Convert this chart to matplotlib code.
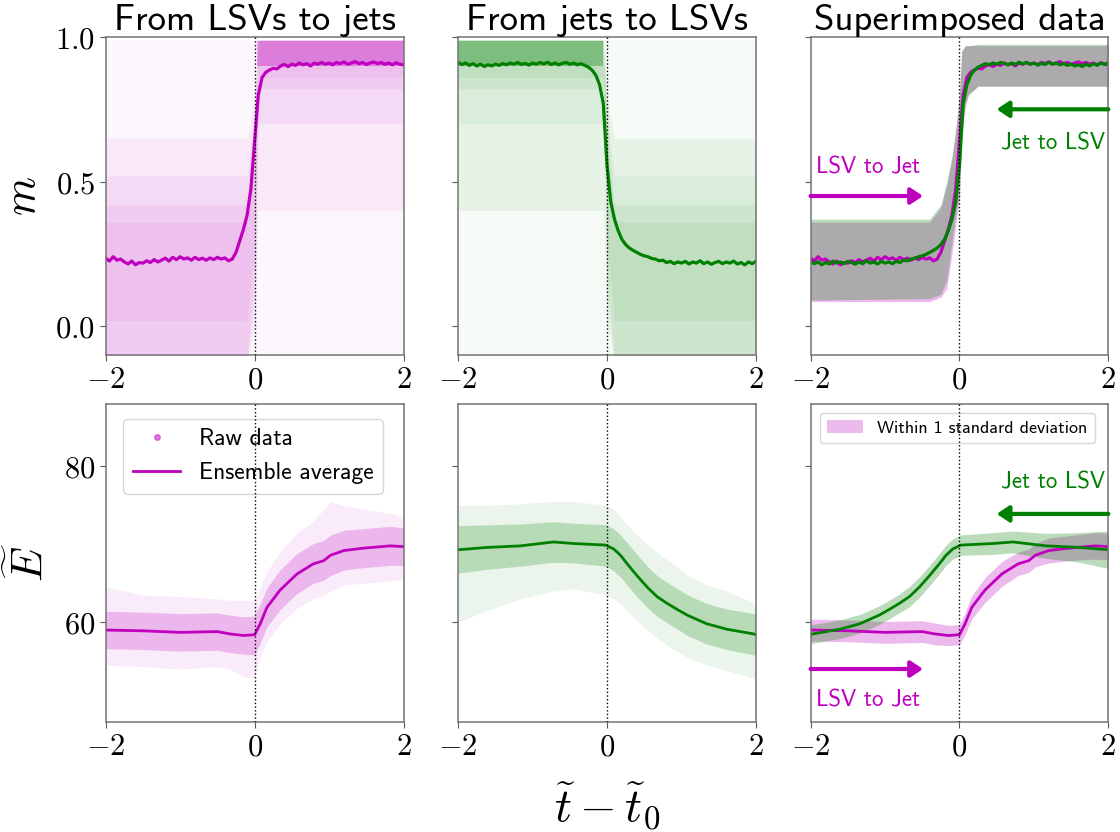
import numpy as np
import matplotlib.pyplot as plt
from matplotlib.lines import Line2D
from matplotlib.patches import Patch

plt.rcParams['mathtext.fontset'] = 'cm'

MAG = (0.75, 0.0, 0.75)
GRN = (0.0, 0.5, 0.0)

# ---- ensemble average of m, sampled every 0.05 in t - t0 ----
t_m = np.linspace(-2, 2, 81)
m_lsv_to_jet = [
    0.235, 0.225, 0.240, 0.228, 0.232, 0.222, 0.215, 0.225, 0.212, 0.220,
    0.218, 0.226, 0.220, 0.230, 0.222, 0.228, 0.235, 0.225, 0.238, 0.230,
    0.240, 0.232, 0.236, 0.228, 0.238, 0.230, 0.235, 0.228, 0.236, 0.230,
    0.238, 0.232, 0.236, 0.226, 0.232, 0.255, 0.295, 0.335, 0.385, 0.475,
    0.640,
    0.800, 0.860, 0.878, 0.886, 0.892, 0.890, 0.900, 0.905, 0.898, 0.906,
    0.902, 0.910, 0.904, 0.908, 0.900, 0.910, 0.906, 0.912, 0.906, 0.910,
    0.904, 0.912, 0.908, 0.914, 0.906, 0.910, 0.915, 0.908, 0.912, 0.905,
    0.910, 0.914, 0.908, 0.912, 0.906, 0.910, 0.904, 0.911, 0.906, 0.904]
m_jet_to_lsv = [
    0.912, 0.905, 0.910, 0.902, 0.908, 0.900, 0.906, 0.898, 0.904, 0.900,
    0.906, 0.902, 0.908, 0.904, 0.910, 0.906, 0.912, 0.905, 0.909, 0.903,
    0.910, 0.906, 0.912, 0.907, 0.913, 0.905, 0.910, 0.904, 0.909, 0.912,
    0.906, 0.910, 0.904, 0.908, 0.902, 0.896, 0.885, 0.868, 0.835, 0.770,
    0.555,
    0.430, 0.370, 0.330, 0.300, 0.282, 0.270, 0.262, 0.255, 0.248, 0.243,
    0.240, 0.234, 0.232, 0.226, 0.228, 0.220, 0.224, 0.216, 0.222, 0.218,
    0.224, 0.215, 0.222, 0.218, 0.226, 0.216, 0.222, 0.214, 0.220, 0.224,
    0.216, 0.222, 0.218, 0.225, 0.215, 0.220, 0.212, 0.222, 0.216, 0.224]

# ---- raw m clouds, as stacked density layers ----
t_cloud_lj = [-2.0, -0.1, 0.0, 0.05, 2.0]
lj_faint_lo = [-0.12, -0.12, -0.12, -0.12, -0.12]
lj_faint_hi = [0.99, 0.99, 0.99, 0.99, 0.99]
lj_l1_lo = [-0.12, -0.12, 0.00, 0.40, 0.40]
lj_l1_hi = [0.65, 0.65, 0.80, 0.99, 0.99]
lj_l2_lo = [-0.12, -0.12, 0.10, 0.70, 0.70]
lj_l2_hi = [0.52, 0.52, 0.75, 0.99, 0.99]
lj_l3_lo = [-0.12, -0.12, 0.20, 0.82, 0.82]
lj_l3_hi = [0.42, 0.42, 0.70, 0.99, 0.99]
lj_l4_lo = [0.02, 0.02, 0.30, 0.86, 0.86]
lj_l4_hi = [0.36, 0.36, 0.65, 0.99, 0.99]
t_core_lj = [0.03, 2.0]
lj_core_lo = [0.90, 0.90]
lj_core_hi = [0.985, 0.985]

t_cloud_jl = [-2.0, -0.05, 0.0, 0.1, 2.0]
jl_faint_lo = [-0.12, -0.12, -0.12, -0.12, -0.12]
jl_faint_hi = [0.99, 0.99, 0.99, 0.99, 0.99]
jl_l1_lo = [0.40, 0.40, 0.00, -0.12, -0.12]
jl_l1_hi = [0.99, 0.99, 0.80, 0.65, 0.65]
jl_l2_lo = [0.70, 0.70, 0.10, -0.12, -0.12]
jl_l2_hi = [0.99, 0.99, 0.75, 0.52, 0.52]
jl_l3_lo = [0.82, 0.82, 0.20, -0.12, -0.12]
jl_l3_hi = [0.99, 0.99, 0.70, 0.42, 0.42]
jl_l4_lo = [0.86, 0.86, 0.30, 0.02, 0.02]
jl_l4_hi = [0.99, 0.99, 0.65, 0.36, 0.36]
t_core_jl = [-2.0, -0.05]
jl_core_lo = [0.90, 0.90]
jl_core_hi = [0.985, 0.985]

# ---- 1 std band of m ----
t_band_lj = [-2.0, -0.4, -0.25, -0.17, -0.1, -0.04, 0.0, 0.03, 0.08, 0.12, 0.25, 2.0]
band_lj_lo = [0.085, 0.085, 0.10, 0.13, 0.25, 0.37, 0.44, 0.66, 0.76, 0.80, 0.83, 0.83]
band_lj_hi = [0.36, 0.36, 0.41, 0.49, 0.58, 0.70, 0.80, 0.95, 0.97, 0.97, 0.97, 0.97]
t_band_jl = [-2.0, -0.25, -0.12, -0.08, -0.03, 0.0, 0.04, 0.1, 0.17, 0.25, 0.4, 2.0]
band_jl_lo = [0.83, 0.83, 0.80, 0.77, 0.68, 0.46, 0.40, 0.29, 0.16, 0.11, 0.095, 0.09]
band_jl_hi = [0.975, 0.975, 0.97, 0.97, 0.95, 0.80, 0.70, 0.59, 0.50, 0.42, 0.37, 0.37]

# ---- energy E: ensemble average, std, raw spread ----
t_E_lj = [-2.0, -1.5, -1.0, -0.5, -0.33, -0.15, 0.0, 0.075, 0.165, 0.34, 0.57,
          0.79, 0.93, 1.02, 1.2, 1.46, 1.82, 2.0]
E_lj = [59.0, 58.9, 58.7, 58.8, 58.5, 58.3, 58.4, 59.8, 61.9, 64.1, 66.2,
        67.5, 67.9, 68.6, 69.2, 69.5, 69.8, 69.7]
E_lj_std = [1.4, 1.4, 1.4, 1.4, 1.4, 1.3, 1.3, 1.4, 1.5, 1.6, 1.6,
            1.5, 1.5, 1.5, 1.6, 1.6, 1.7, 1.7]
E_lj_dense_lo = [56.6, 56.5, 56.3, 56.4, 56.1, 55.9, 55.8, 57.3, 59.4, 61.6, 63.7,
                 65.0, 65.4, 66.0, 66.7, 67.0, 67.3, 67.3]
E_lj_dense_hi = [61.4, 61.3, 61.1, 61.2, 60.9, 60.7, 60.8, 62.3, 64.4, 66.7, 68.8,
                 70.1, 70.5, 71.2, 71.8, 72.0, 72.3, 72.1]
E_lj_wide_lo = [54.5, 54.3, 54.0, 54.3, 54.0, 53.0, 52.8, 55.5, 57.5, 59.8, 61.8,
                63.0, 63.5, 64.0, 64.8, 65.0, 65.3, 65.5]
E_lj_wide_hi = [64.5, 63.5, 63.3, 63.0, 62.8, 62.8, 62.8, 64.5, 66.5, 69.0, 71.5,
                73.0, 74.5, 75.5, 75.0, 74.5, 74.0, 73.5]

t_E_jl = [-2.0, -1.61, -1.16, -0.72, -0.45, -0.02, 0.09, 0.18, 0.27, 0.4, 0.54,
          0.67, 0.81, 0.95, 1.08, 1.34, 1.61, 1.97, 2.0]
E_jl = [69.3, 69.6, 69.8, 70.3, 70.1, 69.9, 69.4, 68.6, 67.5, 66.0, 64.5,
        63.3, 62.4, 61.6, 60.9, 59.8, 59.1, 58.5, 58.4]
E_jl_std = [2.4, 1.9, 1.6, 1.4, 1.4, 1.3, 1.3, 1.3, 1.3, 1.3, 1.3,
            1.3, 1.2, 1.2, 1.2, 1.2, 1.2, 1.2, 1.2]
E_jl_dense_lo = [66.3, 66.8, 67.2, 67.7, 67.6, 67.2, 66.6, 65.8, 64.8, 63.3, 61.9,
                 60.8, 59.9, 59.1, 58.3, 57.2, 56.5, 55.8, 55.7]
E_jl_dense_hi = [72.4, 72.5, 72.6, 72.9, 72.7, 72.5, 72.0, 71.2, 70.2, 68.7, 67.2,
                 66.0, 65.1, 64.3, 63.5, 62.4, 61.7, 61.1, 61.0]
E_jl_wide_lo = [60.0, 61.5, 63.0, 64.0, 64.3, 63.5, 63.0, 62.3, 61.5, 60.2, 59.0,
                58.0, 57.0, 56.2, 55.5, 54.5, 53.8, 52.8, 52.5]
E_jl_wide_hi = [75.0, 75.0, 75.2, 75.5, 75.5, 75.0, 74.5, 73.5, 72.5, 71.2, 70.0,
                69.0, 68.0, 67.0, 66.0, 64.8, 64.0, 62.5, 62.0]

titles = ['From LSVs to jets', 'From jets to LSVs', 'Superimposed data']
BAND_ALPHA = 0.27


def style(ax, ylim, yticks, ylabels):
    ax.set_xlim(-2, 2)
    ax.set_ylim(*ylim)
    ax.set_xticks([-2, 0, 2], ['$-2$', '$0$', '$2$'])
    ax.set_yticks(yticks, ylabels)
    ax.tick_params(labelsize=22, length=4, color='0.35')
    for s in ax.spines.values():
        s.set_color('0.45')
        s.set_linewidth(1.1)
    ax.axvline(0, color='k', ls=':', lw=1, zorder=6)


def arrow(ax, x0, x1, y, color):
    ax.annotate('', xy=(x1, y), xytext=(x0, y),
                arrowprops=dict(arrowstyle='-|>,head_length=0.45,head_width=0.3',
                                color=color, lw=3, mutation_scale=16,
                                shrinkA=0, shrinkB=0))


fig, axes = plt.subplots(2, 3, figsize=(11.2, 8.32), dpi=100)
fig.subplots_adjust(left=0.0944, right=0.9896, top=0.9555, bottom=0.1322,
                    wspace=0.1835, hspace=0.154)

# --- top row: m ---
ax = axes[0, 0]
ax.fill_between(t_cloud_lj, lj_faint_lo, lj_faint_hi, color=MAG, alpha=0.03, lw=0)
for lo, hi in [(lj_l1_lo, lj_l1_hi), (lj_l2_lo, lj_l2_hi),
               (lj_l3_lo, lj_l3_hi), (lj_l4_lo, lj_l4_hi)]:
    ax.fill_between(t_cloud_lj, lo, hi, color=MAG, alpha=0.06, lw=0)
ax.fill_between(t_core_lj, lj_core_lo, lj_core_hi, color=MAG, alpha=0.35, lw=0)
ax.plot(t_m, m_lsv_to_jet, color=MAG, lw=2.3)

ax = axes[0, 1]
ax.fill_between(t_cloud_jl, jl_faint_lo, jl_faint_hi, color=GRN, alpha=0.03, lw=0)
for lo, hi in [(jl_l1_lo, jl_l1_hi), (jl_l2_lo, jl_l2_hi),
               (jl_l3_lo, jl_l3_hi), (jl_l4_lo, jl_l4_hi)]:
    ax.fill_between(t_cloud_jl, lo, hi, color=GRN, alpha=0.06, lw=0)
ax.fill_between(t_core_jl, jl_core_lo, jl_core_hi, color=GRN, alpha=0.35, lw=0)
ax.plot(t_m, m_jet_to_lsv, color=GRN, lw=2.3)

ax = axes[0, 2]
ax.fill_between(t_band_lj, band_lj_lo, band_lj_hi, color=MAG, alpha=BAND_ALPHA, lw=0)
ax.fill_between(-np.array(t_band_jl), band_jl_lo, band_jl_hi, color=GRN,
                alpha=BAND_ALPHA, lw=0)
ax.plot(t_m, m_lsv_to_jet, color=MAG, lw=2.3)
ax.plot(-t_m, m_jet_to_lsv, color=GRN, lw=2.3)
arrow(ax, -2.0, -0.49, 0.45, MAG)
ax.text(-1.93, 0.55, 'LSV to Jet', color=MAG, fontsize=16.5, family='cmss10',
        ha='left', va='center')
arrow(ax, 2.0, 0.5, 0.75, GRN)
ax.text(1.96, 0.63, 'Jet to LSV', color=GRN, fontsize=16.5, family='cmss10',
        ha='right', va='center')

for j, ax in enumerate(axes[0]):
    style(ax, (-0.1, 1.0), [0, 0.5, 1.0],
          ['$0.0$', '$0.5$', '$1.0$'] if j == 0 else [])
    ax.set_title(titles[j], fontsize=26.5, family='cmss10', pad=4)
axes[0, 0].set_ylabel('$m$', fontsize=32, labelpad=8)

# --- bottom row: E ---
ax = axes[1, 0]
ax.fill_between(t_E_lj, E_lj_wide_lo, E_lj_wide_hi, color=MAG, alpha=0.08, lw=0)
ax.fill_between(t_E_lj, E_lj_dense_lo, E_lj_dense_hi, color=MAG, alpha=0.22, lw=0)
ax.plot(t_E_lj, E_lj, color=MAG, lw=2)
handles = [Line2D([], [], marker='o', ls='', color=MAG, alpha=0.5, ms=4),
           Line2D([], [], color=MAG, lw=2)]
ax.legend(handles, ['Raw data', 'Ensemble average'], loc='upper left',
          prop={'family': 'cmss10', 'size': 17}, bbox_to_anchor=(0.02, 0.99))

ax = axes[1, 1]
ax.fill_between(t_E_jl, E_jl_wide_lo, E_jl_wide_hi, color=GRN, alpha=0.08, lw=0)
ax.fill_between(t_E_jl, E_jl_dense_lo, E_jl_dense_hi, color=GRN, alpha=0.22, lw=0)
ax.plot(t_E_jl, E_jl, color=GRN, lw=2)

ax = axes[1, 2]
E_lj_a, s_lj = np.array(E_lj), np.array(E_lj_std)
E_jl_a, s_jl = np.array(E_jl), np.array(E_jl_std)
ax.fill_between(t_E_lj, E_lj_a - s_lj, E_lj_a + s_lj, color=MAG, alpha=BAND_ALPHA, lw=0)
ax.fill_between(-np.array(t_E_jl), E_jl_a - s_jl, E_jl_a + s_jl, color=GRN,
                alpha=BAND_ALPHA, lw=0)
ax.plot(t_E_lj, E_lj, color=MAG, lw=2)
ax.plot(-np.array(t_E_jl), E_jl, color=GRN, lw=2)
arrow(ax, -2.0, -0.49, 54.0, MAG)
ax.text(-1.93, 50.0, 'LSV to Jet', color=MAG, fontsize=16.5, family='cmss10',
        ha='left', va='center')
arrow(ax, 2.0, 0.5, 73.9, GRN)
ax.text(1.96, 77.9, 'Jet to LSV', color=GRN, fontsize=16.5, family='cmss10',
        ha='right', va='center')
ax.legend([Patch(color=MAG, alpha=BAND_ALPHA, lw=0)], ['Within 1 standard deviation'],
          loc='upper left', prop={'family': 'cmss10', 'size': 13},
          bbox_to_anchor=(0.0, 1.0))

for j, ax in enumerate(axes[1]):
    style(ax, (47.2, 88.0), [60, 80], ['$60$', '$80$'] if j == 0 else [])
axes[1, 0].set_ylabel(r'$\widetilde{E}$', fontsize=32, labelpad=8)
axes[1, 1].set_xlabel(r'$\widetilde{t}-\widetilde{t}_0$', fontsize=34, labelpad=14)

fig.savefig('out.png', dpi=100)
